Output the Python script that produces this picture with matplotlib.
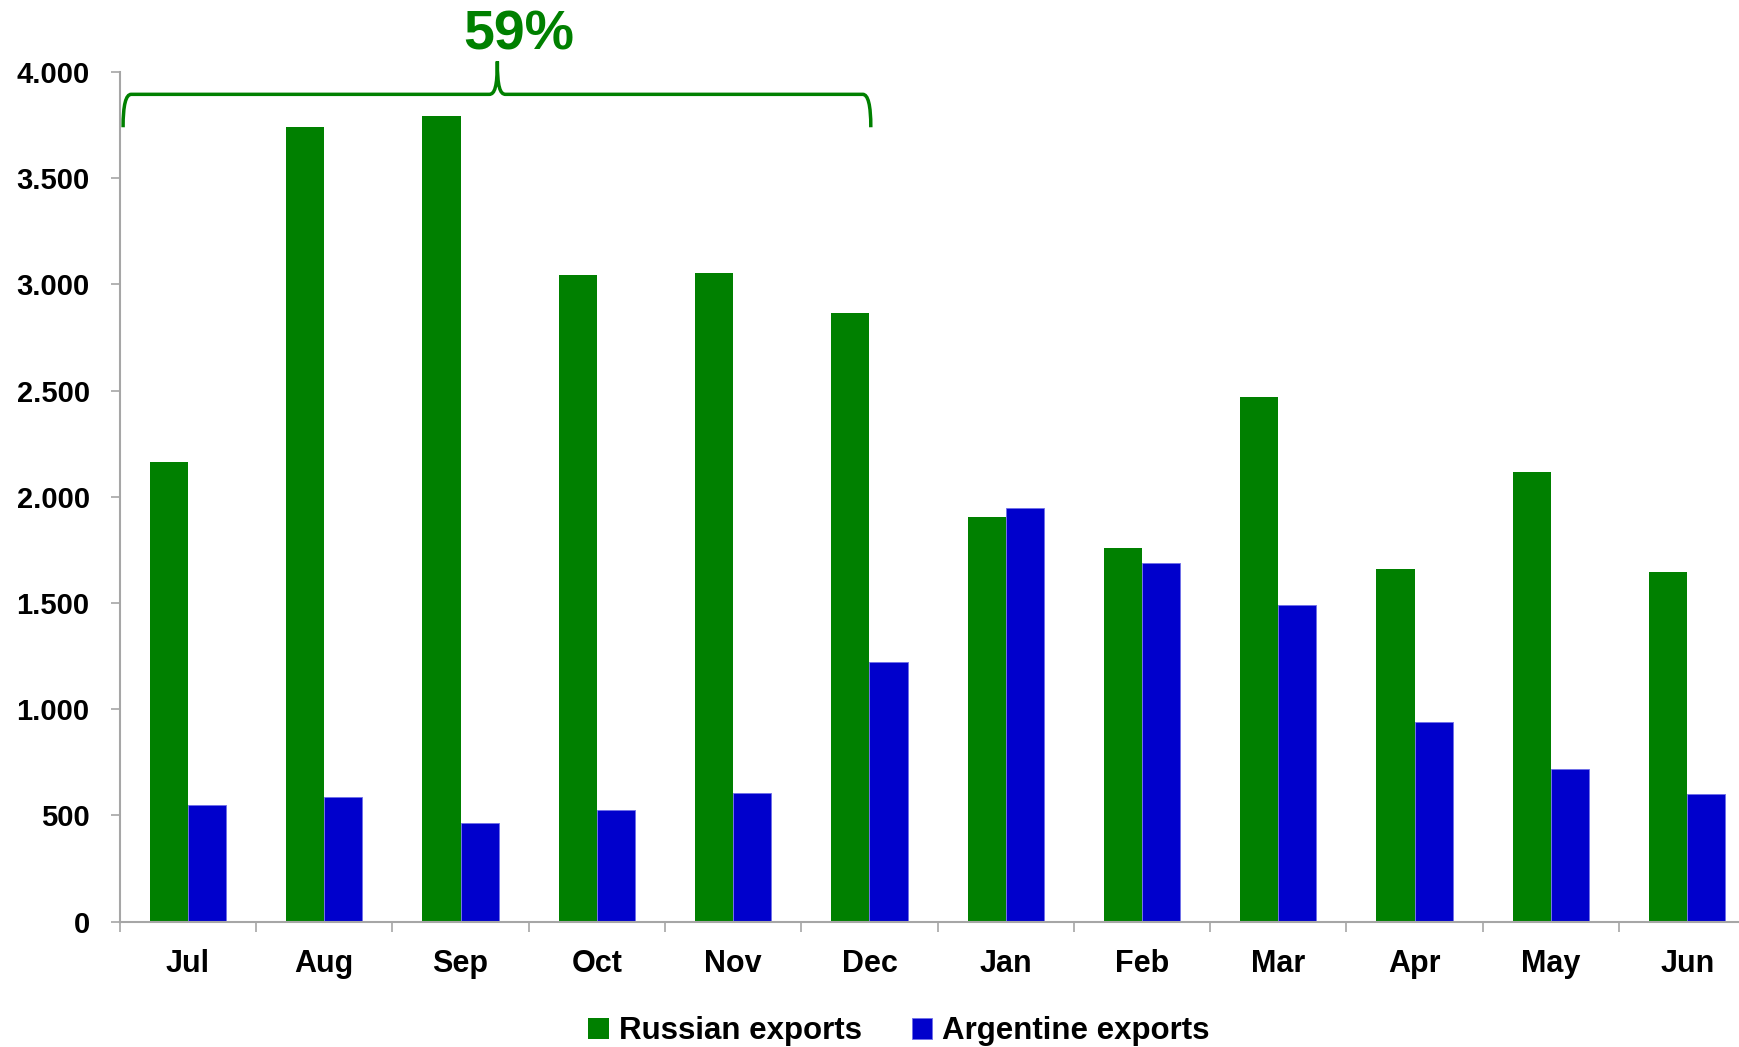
import matplotlib.pyplot as plt
import numpy as np
from matplotlib.path import Path
from matplotlib.patches import PathPatch
from matplotlib.ticker import FixedLocator, FuncFormatter

plt.rcParams["font.family"] = ["Liberation Sans", "DejaVu Sans"]
plt.rcParams["font.weight"] = "bold"

months = ["Jul", "Aug", "Sep", "Oct", "Nov", "Dec", "Jan", "Feb", "Mar", "Apr", "May", "Jun"]
russian = [2165, 3740, 3795, 3045, 3055, 2865, 1905, 1760, 2470, 1662, 2115, 1648]
argentine = [550, 585, 465, 527, 607, 1222, 1948, 1688, 1490, 942, 720, 602]
series_names = ["Russian exports", "Argentine exports"]
share_label = "59%"

GREEN = "#008000"
BLUE = "#0000CC"
AXIS = "#A6A6A6"

fig = plt.figure(figsize=(17.39, 10.47), dpi=100)
ax = fig.add_axes([0.0689, 0.1197, 0.9311, 0.8115])

x = np.arange(len(months))
w = 0.28
ax.bar(x - w / 2, russian, width=w, color=GREEN, label=series_names[0])
ax.bar(x + w / 2, argentine, width=w, color=BLUE, edgecolor="#6F6FE8", linewidth=0.6,
       label=series_names[1])

ax.set_xlim(-0.5, 11.38)
ax.set_ylim(0, 4000)
ax.set_yticks(np.arange(0, 4001, 500))
ax.yaxis.set_major_formatter(FuncFormatter(lambda v, p: f"{int(v):,}".replace(",", ".")))
ax.set_xticks(x)
ax.set_xticklabels(months)
ax.xaxis.set_minor_locator(FixedLocator(np.arange(-0.5, 11.5, 1.0)))

for s in ["top", "right"]:
    ax.spines[s].set_visible(False)
for s in ["left", "bottom"]:
    ax.spines[s].set_color(AXIS)
    ax.spines[s].set_linewidth(1.5)

ax.tick_params(axis="y", length=6.7, width=1.2, color=AXIS, pad=15, labelsize=21)
ax.tick_params(axis="x", which="major", length=0, pad=20, labelsize=22)
ax.tick_params(axis="x", which="minor", length=7.5, width=1.2, color=AXIS)

# curly brace over the first six months
x0, x1, xm = -0.476, 5.01, 2.27
yb, ye, yt = 3895, 3740, 4050
r = 0.06
verts = [
    (x0, ye), (x0, yb - 50), (x0 + 0.02, yb), (x0 + r, yb),
    (xm - r, yb), (xm - 0.02, yb), (xm, yb + 35), (xm, yt),
    (xm, yb + 35), (xm + 0.02, yb), (xm + r, yb),
    (x1 - r, yb), (x1 - 0.02, yb), (x1, yb - 50), (x1, ye),
]
codes = [Path.MOVETO, Path.CURVE4, Path.CURVE4, Path.CURVE4,
         Path.LINETO, Path.CURVE4, Path.CURVE4, Path.CURVE4,
         Path.CURVE4, Path.CURVE4, Path.CURVE4,
         Path.LINETO, Path.CURVE4, Path.CURVE4, Path.CURVE4]
ax.add_patch(PathPatch(Path(verts, codes), fill=False, edgecolor=GREEN, lw=2.5,
                       clip_on=False))
ax.text(2.43, 4170, share_label, color=GREEN, fontsize=40, fontweight="bold",
        ha="center", va="center", clip_on=False)

fig.legend(loc="center", bbox_to_anchor=(0.517, 0.015), ncol=2, frameon=False,
           fontsize=22.5, handlelength=0.65, handleheight=0.65, handletextpad=0.33,
           columnspacing=1.6)

fig.savefig("out.png", dpi=100)
